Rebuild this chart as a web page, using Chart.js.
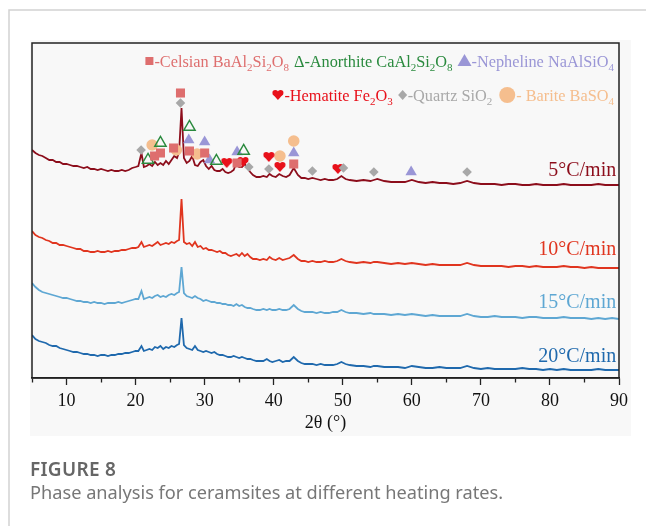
<!DOCTYPE html>
<html>
<head>
<meta charset="utf-8">
<script src="https://cdn.jsdelivr.net/npm/chart.js@4.4.1/dist/chart.umd.min.js"></script>
<style>
  body { margin: 0; background: #fff; }
  #wrap { position: relative; width: 646px; height: 526px; }
  .cap1 { position: absolute; left: 30px; top: 456px; font: 600 19px "Noto Sans", sans-serif; color: #666; letter-spacing: 0.3px; }
  .cap2 { position: absolute; left: 30px; top: 480px; font: 18.2px "Noto Sans", sans-serif; color: #777; }
</style>
</head>
<body>
<div id="wrap">
  <canvas id="xrdChart" width="646" height="526"></canvas>
  <div class="cap1">FIGURE 8</div>
  <div class="cap2">Phase analysis for ceramsites at different heating rates.</div>
</div>
<script>
// 2θ positions shared by all four patterns
var angles = [5,5.5,6,6.5,7,7.5,8,8.5,9,9.5,
  10,10.5,11,11.5,12,12.5,13,13.5,14,14.5,
  15,15.5,16,16.5,17,17.5,18,18.5,19,19.5,
  20,20.4,20.85,21.2,21.6,22,22.4,22.8,23.2,23.6,
  24,24.4,24.8,25.2,25.6,26,26.3,26.65,27,27.4,
  27.8,28.2,28.6,29,29.4,29.8,30.2,30.6,31,31.4,
  31.8,32.2,32.6,33,33.4,33.8,34.2,34.6,35,35.4,
  35.8,36.2,36.6,37,37.5,38,38.5,39,39.4,39.8,
  40.3,40.8,41.3,41.8,42.3,42.9,43.5,44,44.5,45,
  45.6,46.2,46.8,47.4,48,48.6,49.2,49.8,50.4,51,
  52,53,54,54.5,55,56,57,58,59,60,
  61,62,63,64,65,66,67,68,69,70,
  71,72,73,74,75,76,77,78,79,80,
  81,82,83,84,85,86,87,88,89,90];

// intensities (offset, arbitrary units)
var rate5 = [228,225,223,222,220,218,218,216,216,214,
  214,213,212,212,211,210,211,209,209,208,
  209,208,207,208,207,207,208,207,208,210,
  211,212,225,211,212,214,212,216,213,215,
  213,217,214,218,222,220,226,270,220,215,
  217,222,213,212,216,218,212,209,212,208,
  207,207,209,206,205,206,208,215,211,211,
  214,210,206,203,201,201,202,201,204,202,
  201,204,202,201,203,210,203,200,200,199,
  200,199,198,199,198,198,199,202,199,198,
  197,198,197,198,199,197,196,196,196,198,
  196,195,196,195,195,194,195,197,195,194,
  194,194,193,194,194,193,193,194,193,193,
  193,194,193,193,193,193,194,193,193,193];
var rate10 = [147,143,141,140,138,137,135,135,133,133,
  132,131,130,129,129,127,127,126,126,127,
  126,126,127,126,127,127,128,128,129,130,
  130,131,136,131,132,133,132,134,136,133,
  134,135,134,136,135,137,138,179,136,134,
  135,132,136,131,132,129,130,128,128,127,
  126,127,125,125,123,122,123,124,122,125,
  122,124,121,119,119,118,119,118,121,119,
  118,120,118,119,120,123,119,117,117,116,
  117,116,116,117,116,116,117,119,117,116,
  115,116,115,116,116,115,114,115,114,115,
  114,113,114,113,113,113,113,115,113,112,
  112,112,112,111,112,112,111,112,111,111,
  111,112,111,111,110,111,110,110,110,110];
var rate15 = [95,91,88,86,85,84,83,82,81,80,
  80,79,78,77,77,76,76,75,76,75,
  75,74,75,75,75,76,75,76,77,78,
  79,79,87,79,80,81,80,82,83,81,
  82,81,83,84,83,85,86,111,85,82,
  81,80,82,80,79,77,78,77,76,76,
  75,75,74,74,73,73,72,74,72,73,
  71,70,70,69,68,68,69,68,69,68,
  68,69,68,68,69,73,69,67,66,66,
  66,65,66,65,65,66,66,68,66,65,
  65,64,65,64,64,64,63,64,63,64,
  63,62,63,62,62,62,62,64,62,61,
  61,62,61,61,61,60,61,61,60,60,
  60,61,60,60,60,59,60,59,60,59];
var rate20 = [43,39,37,36,35,33,32,32,30,29,
  28,27,26,26,25,24,24,23,23,22,
  23,23,22,23,23,24,24,25,25,26,
  27,27,32,27,28,29,28,31,30,32,
  29,31,30,32,31,33,34,60,33,30,
  29,28,32,28,27,26,27,26,25,26,
  24,23,23,22,21,21,22,21,20,21,
  20,19,19,18,17,17,17,19,17,16,
  17,18,16,17,17,21,17,15,14,14,
  14,13,14,13,13,13,14,16,14,13,
  12,12,11,12,12,11,11,11,10,12,
  11,10,10,11,10,10,10,12,10,9,
  10,9,9,9,9,10,9,9,8,9,
  8,9,8,8,8,8,9,8,8,8];

var rateNames = ['5°C/min', '10°C/min', '15°C/min', '20°C/min'];
var rateLabelY = [207, 128, 75, 21];
var rateColors = ['#8c0d1b', '#e0351f', '#5ea7d3', '#1f69ad'];

// phase markers on the 5°C/min pattern
var celsianX = [26.5, 22.75, 23.6, 25.5, 27.8, 30.0, 34.7, 42.9];
var celsianY = [285, 222, 225, 230, 227, 225, 215, 214];
var anorthiteX = [23.6, 21.8, 27.8, 31.7, 35.65];
var anorthiteY = [235, 218, 251, 217, 227];
var nephelineX = [27.7, 30.0, 30.7, 34.7, 42.9, 59.9];
var nephelineY = [238, 236, 218, 226, 225, 206];
var hematiteX = [33.2, 35.55, 39.3, 40.9, 49.3];
var hematiteY = [215, 216, 221, 211, 209];
var quartzX = [26.5, 20.8, 36.4, 39.3, 45.6, 50.1, 54.5, 68.0];
var quartzY = [275, 228, 211, 209, 207, 210, 206, 206];
var bariteX = [22.4, 25.9, 28.9, 40.9, 42.9];
var bariteY = [233, 228, 224, 222, 237];

var cCelsian = '#de6e6e', cAnorthite = '#2a8a3e', cNepheline = '#9a96d6';
var cHematite = '#e8101a', cQuartz = '#a8a8a8', cBarite = '#f5be8e';

function pts(xs, ys) {
  return xs.map(function(x, i) { return {x: x, y: ys[i]}; });
}

function heartShape(g, cx, cy, s) {
  g.beginPath();
  g.arc(cx - s * 0.22, cy - s * 0.18, s * 0.24, 0, Math.PI * 2);
  g.arc(cx + s * 0.22, cy - s * 0.18, s * 0.24, 0, Math.PI * 2);
  g.fill();
  g.beginPath();
  g.moveTo(cx - s * 0.45, cy - s * 0.08);
  g.lineTo(cx + s * 0.45, cy - s * 0.08);
  g.lineTo(cx, cy + s * 0.42);
  g.closePath();
  g.fill();
}

var heartImg = document.createElement('canvas');
heartImg.width = 12; heartImg.height = 12;
(function() {
  var g = heartImg.getContext('2d');
  g.fillStyle = cHematite;
  heartShape(g, 6, 6, 12);
})();

function markerSet(data, style, color, r, fill) {
  return {
    type: 'scatter',
    data: data,
    showLine: false,
    pointStyle: style,
    pointRadius: r,
    pointHoverRadius: r,
    pointBackgroundColor: fill === false ? 'rgba(0,0,0,0)' : color,
    pointBorderColor: color,
    pointBorderWidth: fill === false ? 1.4 : 0
  };
}

function lineSet(vals, color) {
  return {
    type: 'line',
    data: pts(angles, vals),
    borderColor: color,
    borderWidth: 1.8,
    pointRadius: 0,
    tension: 0
  };
}

// legend lines drawn as text runs
var serif = '"Liberation Serif", "Times New Roman", serif';
var legendRows = [
  [
    {sym: 'square', c: cCelsian, w: 10},
    {txt: '-Celsian BaAl', c: cCelsian}, {sub: '2', c: cCelsian}, {txt: 'Si', c: cCelsian}, {sub: '2', c: cCelsian}, {txt: 'O', c: cCelsian}, {sub: '8', c: cCelsian},
    {gap: 5},
    {txt: 'Δ-Anorthite CaAl', c: cAnorthite}, {sub: '2', c: cAnorthite}, {txt: 'Si', c: cAnorthite}, {sub: '2', c: cAnorthite}, {txt: 'O', c: cAnorthite}, {sub: '8', c: cAnorthite},
    {gap: 5},
    {sym: 'triangle', c: cNepheline, w: 14},
    {txt: '-Nepheline NaAlSiO', c: cNepheline}, {sub: '4', c: cNepheline}
  ],
  [
    {sym: 'heart', c: cHematite, w: 13},
    {txt: '-Hematite Fe', c: cHematite}, {sub: '2', c: cHematite}, {txt: 'O', c: cHematite}, {sub: '3', c: cHematite},
    {gap: 5},
    {sym: 'diamond', c: cQuartz, w: 10},
    {txt: '-Quartz SiO', c: cQuartz}, {sub: '2', c: cQuartz},
    {gap: 6},
    {sym: 'circle', c: cBarite, w: 18},
    {txt: '- Barite BaSO', c: cBarite}, {sub: '4', c: cBarite}
  ]
];
var legendRowY = [317, 283];

function drawSym(g, kind, cx, cy, color) {
  g.fillStyle = color;
  g.beginPath();
  if (kind === 'square') { g.rect(cx - 4, cy - 4, 8, 8); g.fill(); }
  else if (kind === 'triangle') { g.moveTo(cx, cy - 7); g.lineTo(cx + 7, cy + 5); g.lineTo(cx - 7, cy + 5); g.closePath(); g.fill(); }
  else if (kind === 'diamond') { g.moveTo(cx, cy - 5); g.lineTo(cx + 4.5, cy); g.lineTo(cx, cy + 5); g.lineTo(cx - 4.5, cy); g.closePath(); g.fill(); }
  else if (kind === 'circle') { g.arc(cx, cy, 8, 0, Math.PI * 2); g.fill(); }
  else if (kind === 'heart') { heartShape(g, cx, cy, 12); }
}

var decorPlugin = {
  id: 'decor',
  beforeDraw: function(chart) {
    var g = chart.ctx;
    g.save();
    g.fillStyle = '#ffffff';
    g.fillRect(0, 0, chart.width, chart.height);
    g.fillStyle = '#f8f8f8';
    g.fillRect(30, 40, 601, 396);
    g.strokeStyle = '#d2d2d2';
    g.lineWidth = 1.5;
    g.beginPath();
    g.moveTo(9, chart.height); g.lineTo(9, 10); g.lineTo(chart.width, 10);
    g.stroke();
    g.restore();
  },
  afterDraw: function(chart) {
    var g = chart.ctx, a = chart.chartArea;
    var xs = chart.scales.x, ys = chart.scales.y;
    g.save();
    g.strokeStyle = '#222';
    g.lineWidth = 1.5;
    g.strokeRect(a.left, a.top, a.right - a.left, a.bottom - a.top);

    // heating-rate labels
    g.font = '20px ' + serif;
    g.textAlign = 'right';
    g.textBaseline = 'middle';
    rateNames.forEach(function(name, i) {
      g.fillStyle = rateColors[i];
      g.fillText(name, xs.getPixelForValue(89.6), ys.getPixelForValue(rateLabelY[i]));
    });

    // legend
    g.textAlign = 'left';
    g.textBaseline = 'alphabetic';
    var mainFont = '16.3px ' + serif, subFont = '11px ' + serif;
    legendRows.forEach(function(runs, ri) {
      var total = 0;
      runs.forEach(function(r) {
        if (r.txt) { g.font = mainFont; r.width = g.measureText(r.txt).width; }
        else if (r.sub) { g.font = subFont; r.width = g.measureText(r.sub).width; }
        else if (r.gap) { r.width = r.gap; }
        else { r.width = r.w; }
        total += r.width;
      });
      var x = a.right - 5 - total;
      var cy = ys.getPixelForValue(legendRowY[ri]);
      runs.forEach(function(r) {
        if (r.txt) { g.font = mainFont; g.fillStyle = r.c; g.fillText(r.txt, x, cy + 5.5); }
        else if (r.sub) { g.font = subFont; g.fillStyle = r.c; g.fillText(r.sub, x, cy + 9.5); }
        else if (r.sym) { drawSym(g, r.sym, x + r.width / 2, cy, r.c); }
        x += r.width;
      });
    });
    g.restore();
  }
};

var ctx = document.getElementById('xrdChart').getContext('2d');
var xrdChart = new Chart(ctx, {
  data: {
    datasets: [
      markerSet(pts(quartzX, quartzY), 'rectRot', cQuartz, 4.8),
      markerSet(pts(celsianX, celsianY), 'rect', cCelsian, 6.4),
      markerSet(pts(anorthiteX, anorthiteY), 'triangle', cAnorthite, 6.6, false),
      markerSet(pts(nephelineX, nephelineY), 'triangle', cNepheline, 6.6),
      markerSet(pts(hematiteX, hematiteY), heartImg, cHematite, 6),
      markerSet(pts(bariteX, bariteY), 'circle', cBarite, 5.8),
      lineSet(rate5, rateColors[0]),
      lineSet(rate10, rateColors[1]),
      lineSet(rate15, rateColors[2]),
      lineSet(rate20, rateColors[3])
    ]
  },
  options: {
    responsive: false,
    animation: false,
    events: [],
    layout: { padding: { left: 32, right: 27, top: 43, bottom: 90 } },
    plugins: { legend: { display: false }, tooltip: { enabled: false } },
    scales: {
      x: {
        type: 'linear',
        min: 5,
        max: 90,
        ticks: {
          stepSize: 5,
          padding: 5,
          color: '#111',
          font: { family: serif, size: 18 },
          callback: function(v) { return v % 10 === 0 ? v : ''; }
        },
        grid: {
          drawOnChartArea: false,
          tickLength: 7,
          tickWidth: 1.3,
          tickColor: '#222',
          tickBorderDash: function(c) { return (c.tick && c.tick.value % 10 !== 0) ? [4, 20] : []; }
        },
        border: { display: true, color: '#222', width: 1.5 },
        title: {
          display: true,
          text: '2θ (°)',
          color: '#111',
          font: { family: serif, size: 18 },
          padding: { top: 0, bottom: 2 }
        },
        afterFit: function(s) { s.height = 58; }
      },
      y: {
        display: false,
        min: 0,
        max: 335
      }
    }
  },
  plugins: [decorPlugin]
});
</script>
</body>
</html>
